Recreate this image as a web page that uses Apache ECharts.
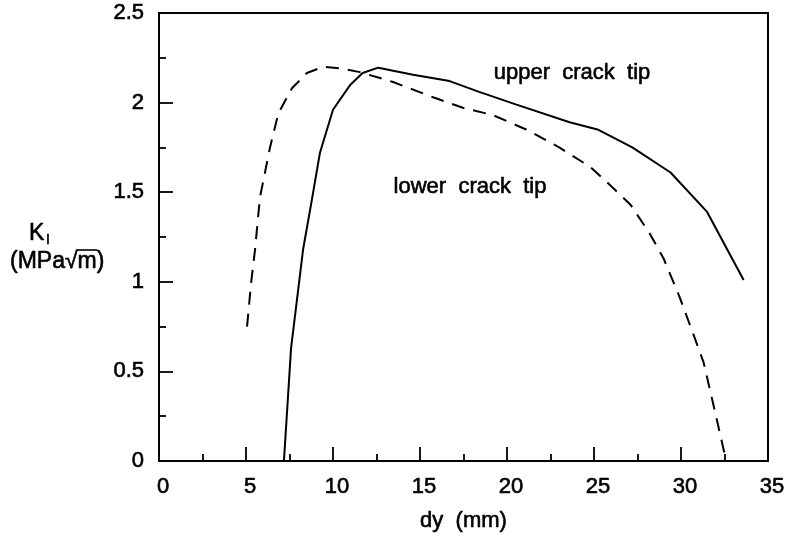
<!DOCTYPE html>
<html>
<head>
<meta charset="utf-8">
<title>K_I vs dy</title>
<script src="https://cdn.jsdelivr.net/npm/echarts@6/dist/echarts.min.js"></script>
<style>
  html, body { margin: 0; padding: 0; background: #fff; }
  #chart { width: 791px; height: 543px; }
</style>
</head>
<body>
<div id="chart"></div>
<script>
// Stress intensity factor K_I against crack-tip offset dy
const dyUpper = [7.18, 7.59, 8.28, 8.79, 9.25, 10.0, 11.0, 11.7, 12.6, 14.6, 16.7, 18.4, 20.5, 23.6, 25.2, 27.2, 29.4, 31.5, 33.6];
const kUpper  = [0.0, 0.63, 1.18, 1.46, 1.72, 1.96, 2.10, 2.165, 2.195, 2.155, 2.12, 2.06, 1.99, 1.89, 1.85, 1.75, 1.61, 1.39, 1.01];

const dyLower = [5.06, 5.3, 5.52, 5.8, 6.38, 6.86, 7.64, 8.5, 9.43, 10.5, 11.55, 13.45, 15.75, 17.5, 19.2, 21.1, 23.0, 24.8, 25.7, 27.1, 28.2, 29.0, 29.9, 30.7, 31.3, 31.8, 32.2, 32.6];
const kLower  = [0.75, 1.0, 1.18, 1.47, 1.75, 1.94, 2.08, 2.165, 2.20, 2.19, 2.17, 2.115, 2.03, 1.97, 1.93, 1.85, 1.75, 1.64, 1.56, 1.43, 1.27, 1.13, 0.92, 0.71, 0.55, 0.34, 0.17, 0.0];

const xTicks = { min: 0, max: 35, step: 5 };
const yTicks = { min: 0, max: 2.5, step: 0.5 };

const FONT = '"Liberation Sans", Arial, Helvetica, sans-serif';
// slight outline in the fill colour gives the lettering a heavier weight
const INK = { textBorderColor: '#000', textBorderWidth: 0.6 };   // for axis labels
const GINK = { stroke: '#000', lineWidth: 0.6 };                 // for graphic text

const zip = (xs, ys) => xs.map((x, i) => [x, ys[i]]);

const chart = echarts.init(document.getElementById('chart'), null, { renderer: 'canvas' });

const axisCommon = {
  type: 'value',
  axisLine: { show: true, onZero: false, lineStyle: { color: '#000', width: 2 } },
  axisTick: { show: true, inside: true, length: 14, lineStyle: { color: '#000', width: 1.8 } },
  minorTick: { show: true, splitNumber: 2, length: 7, lineStyle: { color: '#000', width: 1.8 } },
  splitLine: { show: false },
  minorSplitLine: { show: false },
  axisLabel: Object.assign({ color: '#000', fontSize: 22, fontFamily: FONT, margin: 15 }, INK)
};

chart.setOption({
  animation: false,
  backgroundColor: '#fff',
  grid: {
    left: 159, right: 23, top: 13, bottom: 82,
    show: true, borderColor: '#000', borderWidth: 2, backgroundColor: 'transparent'
  },
  xAxis: Object.assign({}, axisCommon, {
    min: xTicks.min, max: xTicks.max, interval: xTicks.step,
    name: 'dy  (mm)', nameLocation: 'middle', nameGap: 49,
    nameTextStyle: Object.assign({ color: '#000', fontSize: 22, fontFamily: FONT }, INK),
    axisLabel: Object.assign({}, axisCommon.axisLabel, { padding: [0, 0, 0, 8] })
  }),
  yAxis: Object.assign({}, axisCommon, {
    min: yTicks.min, max: yTicks.max, interval: yTicks.step
  }),
  series: [
    {
      name: 'upper crack tip',
      type: 'line',
      data: zip(dyUpper, kUpper),
      showSymbol: false,
      lineStyle: { color: '#000', width: 2 }
    },
    {
      name: 'lower crack tip',
      type: 'line',
      data: zip(dyLower, kLower),
      showSymbol: false,
      lineStyle: { color: '#000', width: 2, type: [13, 9] }
    }
  ],
  graphic: [
    {
      type: 'text', x: 29, y: 222,
      style: Object.assign({
        text: 'K', fontSize: 23, fontFamily: FONT, fill: '#000',
        textAlign: 'left', textVerticalAlign: 'top'
      }, GINK)
    },
    {
      type: 'text', x: 46, y: 233,
      style: Object.assign({
        text: 'I', fontSize: 14, fontFamily: FONT, fill: '#000',
        textAlign: 'left', textVerticalAlign: 'top'
      }, GINK)
    },
    {
      type: 'text', x: 10, y: 262,
      style: Object.assign({
        text: '(MPa√m)', fontSize: 23, fontFamily: FONT, fill: '#000',
        textAlign: 'left', textVerticalAlign: 'middle'
      }, GINK)
    },
    {
      type: 'line',
      shape: { x1: 77, y1: 250, x2: 97, y2: 250 },
      style: { stroke: '#000', lineWidth: 1.6 }
    },
    {
      type: 'text', x: 572, y: 73,
      style: Object.assign({
        text: 'upper  crack  tip', fontSize: 22, fontFamily: FONT, fill: '#000',
        textAlign: 'center', textVerticalAlign: 'middle'
      }, GINK)
    },
    {
      type: 'text', x: 470, y: 187,
      style: Object.assign({
        text: 'lower  crack  tip', fontSize: 22, fontFamily: FONT, fill: '#000',
        textAlign: 'center', textVerticalAlign: 'middle'
      }, GINK)
    }
  ]
});
</script>
</body>
</html>
